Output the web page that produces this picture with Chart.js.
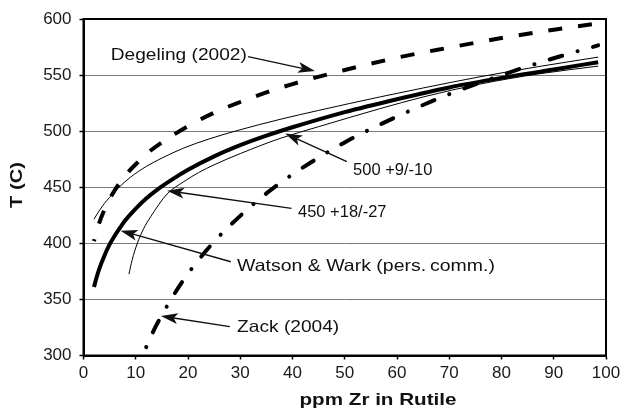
<!DOCTYPE html>
<html>
<head>
<meta charset="utf-8">
<script src="https://cdn.jsdelivr.net/npm/chart.js@4.4.1/dist/chart.umd.min.js"></script>
<style>
  html, body { margin: 0; padding: 0; background: #fff; }
  canvas { display: block; }
</style>
</head>
<body>
<canvas id="chart" width="620" height="411"></canvas>
<script>
// ค่าที่อ่านจากกราฟ (ppm Zr, T in C)
const zrWatson = [2, 2.5, 3, 4, 5, 6, 7, 8, 10, 12, 14, 17, 20, 25, 30, 35, 40, 50, 60, 70, 80, 90, 98.5];
const tWatson = [361, 369.5, 377, 389, 399, 407, 414, 420.5, 431, 440, 447.5, 457, 465.5, 477.5, 487.5, 496, 503.5, 517, 528.5, 539, 547.5, 555, 561.5];

const zrUpper = [2, 3, 4, 5, 6.8, 9, 12, 15, 19.2, 24, 29.4, 37.6, 45, 56.7, 65, 75.9, 87, 98.5];
const tUpper = [421.5, 429, 435.5, 441, 450, 459, 468.5, 476, 485, 493, 500.5, 510.5, 518.5, 530.5, 538.5, 548.5, 557.5, 566];

const zrLower = [8.7, 9.3, 10.3, 11.5, 12.9, 16, 19.2, 22, 25, 30, 37.6, 45, 56.7, 65, 75.9, 87, 98.5];
const tLower = [372.5, 385, 400, 413, 424, 444, 455, 463, 470, 480, 493.5, 504, 520, 530.5, 542, 551, 558];

const zrDegeling = [2, 3, 4, 5, 6, 8, 10, 12, 15, 20, 25, 30, 35, 40, 50, 60, 70, 80, 90, 98.5];
const tDegeling = [402, 418, 430, 439.5, 447.5, 460.5, 470.5, 479.5, 490, 504.5, 516.5, 526, 534.5, 542, 554.5, 565.5, 574.5, 583, 590.5, 596];

const zrZack = [12, 13, 14, 15, 17, 20, 25, 30, 35, 40, 50, 60, 70, 80, 90, 98.5];
const tZack = [307.5, 318, 327.5, 336, 352, 373, 401.5, 424.5, 444.5, 461.5, 490, 513, 533, 550, 565, 576.5];

const xTicks = [0, 10, 20, 30, 40, 50, 60, 70, 80, 90, 100];
const yTicks = [300, 350, 400, 450, 500, 550, 600];

function points(xs, ys) {
    return xs.map((x, i) => ({ x: x, y: ys[i] }));
}

// ข้อความและลูกศรชี้เส้น (พิกัดข้อมูล)
const notes = [
    { text: 'Degeling (2002)', at: [5.2, 567.9], from: [31.5, 566.4], to: [44.3, 553.6], size: 16.5, sx: 1.16 },
    { text: '500 +9/-10', at: [51.6, 465.4], from: [50.4, 472.8], to: [38.6, 497.9], size: 16.5, sx: 1 },
    { text: '450 +18/-27', at: [41.05, 427.5], from: [39.8, 431.2], to: [16.0, 446.9], size: 16.5, sx: 1 },
    { text: 'Watson & Wark (pers.\u2009comm.)', at: [29.4, 379.8], from: [28.2, 383.6], to: [7.1, 411.3], size: 16.5, sx: 1.18 },
    { text: 'Zack (2004)', at: [29.4, 324.95], from: [28.0, 325.7], to: [14.8, 335.2], size: 16.5, sx: 1.16 },
];

const FONT = '"Liberation Sans", Arial, Helvetica, sans-serif';

function drawArrow(ctx, x1, y1, x2, y2) {
    const ang = Math.atan2(y2 - y1, x2 - x1);
    const len = 17, half = 5.5, notch = 4;
    ctx.beginPath();
    ctx.moveTo(x1, y1);
    ctx.lineTo(x2 - Math.cos(ang) * (len - notch), y2 - Math.sin(ang) * (len - notch));
    ctx.stroke();
    ctx.save();
    ctx.translate(x2, y2);
    ctx.rotate(ang);
    ctx.beginPath();
    ctx.moveTo(0, 0);
    ctx.lineTo(-len, -half);
    ctx.lineTo(-len + notch, 0);
    ctx.lineTo(-len, half);
    ctx.closePath();
    ctx.fill();
    ctx.restore();
}

const framePlugin = {
    id: 'frame',
    afterDraw(chart) {
        const { ctx, chartArea: a, scales } = chart;
        ctx.save();
        ctx.strokeStyle = '#000';
        ctx.lineWidth = 2;
        ctx.strokeRect(a.left, a.top, a.right - a.left, a.bottom - a.top);

        // annotations
        ctx.fillStyle = '#111';
        ctx.strokeStyle = '#111';
        ctx.lineWidth = 1.4;
        notes.forEach(n => {
            const tx = scales.x.getPixelForValue(n.at[0]);
            const ty = scales.y.getPixelForValue(n.at[1]);
            ctx.save();
            ctx.font = n.size + 'px ' + FONT;
            ctx.textBaseline = 'middle';
            ctx.translate(tx, ty);
            ctx.scale(n.sx, 1);
            ctx.fillText(n.text, 0, 0);
            ctx.restore();
            drawArrow(ctx,
                scales.x.getPixelForValue(n.from[0]), scales.y.getPixelForValue(n.from[1]),
                scales.x.getPixelForValue(n.to[0]), scales.y.getPixelForValue(n.to[1]));
        });

        // axis titles
        ctx.font = 'bold 16.5px ' + FONT;
        ctx.textAlign = 'center';
        ctx.textBaseline = 'middle';
        ctx.save();
        ctx.translate(378, 400);
        ctx.scale(1.25, 1);
        ctx.fillText('ppm Zr in Rutile', 0, 0);
        ctx.restore();
        ctx.save();
        ctx.translate(17, 185);
        ctx.rotate(-Math.PI / 2);
        ctx.scale(1.22, 1);
        ctx.fillText('T (C)', 0, 0);
        ctx.restore();
        ctx.restore();
    }
};

const ctx = document.getElementById('chart').getContext('2d');
new Chart(ctx, {
    type: 'scatter',
    data: {
        datasets: [
            { data: points(zrUpper, tUpper), showLine: true, borderColor: '#000', borderWidth: 1 },
            { data: points(zrLower, tLower), showLine: true, borderColor: '#000', borderWidth: 1 },
            { data: points(zrWatson, tWatson), showLine: true, borderColor: '#000', borderWidth: 4 },
            {
                data: points(zrDegeling, tDegeling), showLine: true, borderColor: '#000', borderWidth: 4,
                borderDash: [14, 16], borderDashOffset: 12
            },
            {
                data: points(zrZack, tZack), showLine: true, borderColor: '#000', borderWidth: 4,
                borderDash: [0.1, 16, 13, 16], borderCapStyle: 'round'
            },
        ],
    },
    options: {
        responsive: false,
        animation: false,
        layout: { padding: { top: 19, right: 14, left: 0, bottom: 0 } },
        plugins: { legend: { display: false }, tooltip: { enabled: false } },
        elements: { point: { radius: 0 }, line: { cubicInterpolationMode: 'monotone' } },
        scales: {
            x: {
                type: 'linear', min: 0, max: 100,
                afterBuildTicks: s => { s.ticks = xTicks.map(v => ({ value: v })); },
                ticks: { color: '#1a1a1a', font: { family: FONT, size: 17 }, padding: 4, maxRotation: 0 },
                grid: { drawOnChartArea: false, tickLength: 4, tickColor: '#000', tickWidth: 1.5 },
                border: { color: '#000', width: 2 },
                afterFit: s => { s.height = 55.5; s.paddingLeft = 0; s.paddingRight = 0; },
            },
            y: {
                type: 'linear', min: 300, max: 600,
                afterBuildTicks: s => { s.ticks = yTicks.map(v => ({ value: v })); },
                ticks: { color: '#1a1a1a', font: { family: FONT, size: 17 }, padding: 8 },
                grid: { color: '#7a7a7a', lineWidth: 1, tickLength: 4, tickColor: '#000', tickWidth: 1.5 },
                border: { color: '#000', width: 2 },
                afterFit: s => { s.width = 83.5; },
            },
        },
    },
    plugins: [framePlugin],
});
</script>
</body>
</html>
